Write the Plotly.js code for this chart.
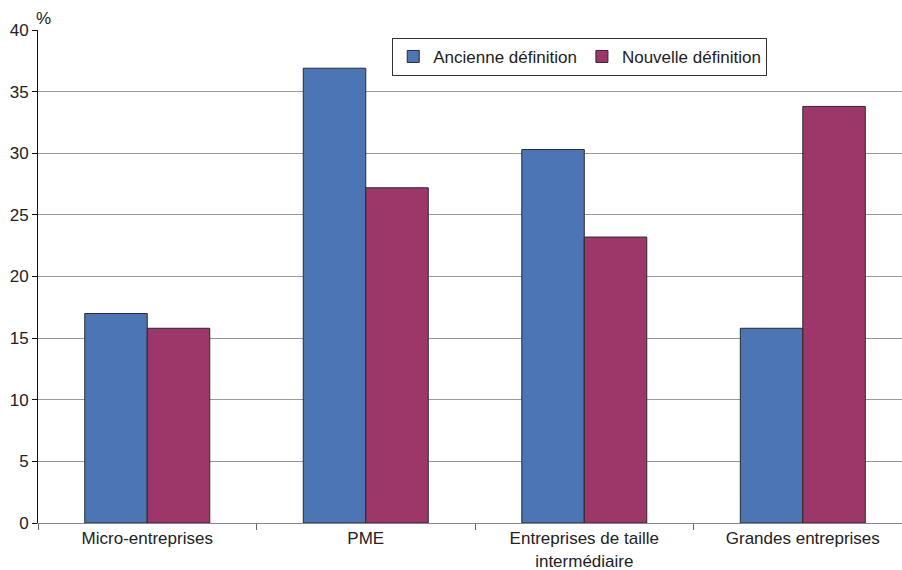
<!DOCTYPE html>
<html><head><meta charset="utf-8">
<script src="https://cdn.plot.ly/plotly-3.0.1.min.js"></script>
<style>body{margin:0;background:#fff}#c{width:902px;height:570px}</style>
</head><body><div id="c"></div>
<script>
const categories = ["Micro-entreprises", "PME", "Entreprises de taille<br>intermédiaire", "Grandes entreprises"];
const ancienne = [17.0, 36.9, 30.3, 15.8];
const nouvelle = [15.8, 27.2, 23.2, 33.8];
const yTicks = [0, 5, 10, 15, 20, 25, 30, 35, 40];

const font = {family: "Liberation Sans, Arial, sans-serif", size: 17, color: "#222"};
const traces = [
  {type: "bar", name: "Ancienne définition", x: categories, y: ancienne,
   marker: {color: "#4B75B4", line: {color: "#2a2a2a", width: 1}}},
  {type: "bar", name: "Nouvelle définition", x: categories, y: nouvelle,
   marker: {color: "#9E3769", line: {color: "#2a2a2a", width: 1}}}
];
const layout = {
  width: 902, height: 570,
  margin: {l: 38, r: 0, t: 30, b: 47},
  paper_bgcolor: "#fff", plot_bgcolor: "#fff",
  font: font,
  barmode: "group", bargap: 0.428, bargroupgap: 0,
  showlegend: true,
  legend: {orientation: "h", x: 0.41, y: 0.984, xanchor: "left", yanchor: "top",
           bordercolor: "#333", borderwidth: 1, bgcolor: "#fff", font: font,
           traceorder: "normal", itemwidth: 30},
  xaxis: {type: "category", range: [-0.5, 3.454], showline: true, linecolor: "#888", linewidth: 1,
          ticks: "outside", tickson: "boundaries", ticklen: 6, tickcolor: "#666",
          showgrid: false, tickfont: font, fixedrange: true},
  yaxis: {range: [0, 40], tickvals: yTicks, showline: true, linecolor: "#111", linewidth: 1,
          ticks: "outside", ticklen: 5, tickcolor: "#111", showgrid: true, gridcolor: "#999",
          gridwidth: 1, zeroline: false, tickfont: font, fixedrange: true},
  annotations: [{text: "%", xref: "paper", yref: "paper", x: 0, y: 1, xanchor: "left", yanchor: "bottom",
                 xshift: -4, yshift: 0, showarrow: false, font: font}]
};
Plotly.newPlot("c", traces, layout, {displayModeBar: false, staticPlot: true});
</script></body></html>
